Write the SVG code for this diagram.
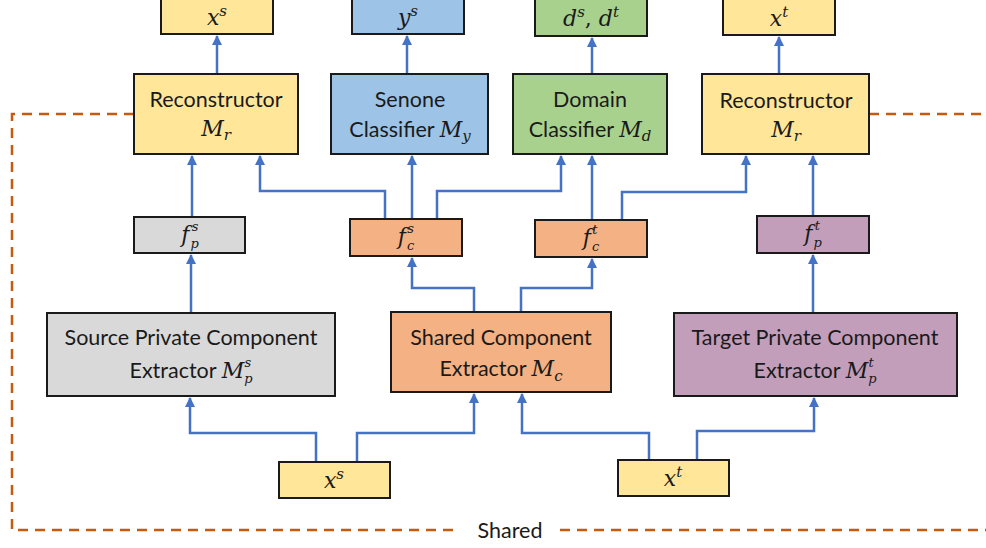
<svg xmlns="http://www.w3.org/2000/svg" width="986" height="548" viewBox="0 0 986 548">
<defs>
<marker id="ah" viewBox="0 0 10 10" refX="9" refY="5" markerWidth="4.2" markerHeight="4.2" orient="auto" markerUnits="strokeWidth"><path d="M0,0 L10,5 L0,10 z" fill="#4472C4"/></marker>
<style>
.box{stroke:#1a1a1a;stroke-width:2}
.y{fill:#FFE699}.b{fill:#9DC3E6}.g{fill:#A9D18E}.gr{fill:#D9D9D9}.o{fill:#F4B183}.p{fill:#C39EBB}
.t{font-family:Lato,"Open Sans",sans-serif;font-size:21.5px;fill:#1a1a1a;text-anchor:middle}
.m{font-family:"DejaVu Serif","Liberation Serif",serif;font-style:italic;font-size:22px;fill:#1a1a1a}
.mc{text-anchor:middle}
.sub{font-size:15px}
.ss{font-size:13px}
.c{fill:none;stroke:#4472C4;stroke-width:2.5;marker-end:url(#ah)}
.d{fill:none;stroke:#C55A11;stroke-width:2.5;stroke-dasharray:10 7}
</style>
</defs>
<g id="shared-boundary">
<path class="d" d="M134,114 H12 V530 H460"/>
<path class="d" d="M560,530 H986"/>
<path class="d" d="M869,114 H986"/>
<text class="t" x="510" y="538">Shared</text>
</g>
<g id="connectors">
<path class="c" d="M217,74 V36"/>
<path class="c" d="M407,74 V36"/>
<path class="c" d="M592,74 V38"/>
<path class="c" d="M779,74 V37"/>
<path class="c" d="M192,217 V156"/>
<path class="c" d="M385,219 V191 H260 V156"/>
<path class="c" d="M412,219 V156"/>
<path class="c" d="M437,219 V191 H561 V156"/>
<path class="c" d="M592,220 V156"/>
<path class="c" d="M622,220 V192 H746 V156"/>
<path class="c" d="M813,216 V156"/>
<path class="c" d="M191,313 V255"/>
<path class="c" d="M474,312 V288 H412 V258"/>
<path class="c" d="M521,312 V288 H592 V259"/>
<path class="c" d="M813,313 V255"/>
<path class="c" d="M316,462 V433 H190 V398"/>
<path class="c" d="M357,462 V433 H474 V394"/>
<path class="c" d="M649,460 V433 H522 V394"/>
<path class="c" d="M697,460 V431 H814 V398"/>
</g>
<g id="out-xs"><rect class="box y" x="161" y="-4" width="112" height="38"/><text class="m mc" x="217" y="25">x<tspan class="sub" dy="-9">s</tspan></text></g>
<g id="out-ys"><rect class="box b" x="352" y="-4" width="112" height="38"/><text class="m mc" x="408" y="25">y<tspan class="sub" dy="-9">s</tspan></text></g>
<g id="out-d"><rect class="box g" x="535" y="-4" width="112" height="40"/><text class="m mc" x="591" y="26">d<tspan class="sub" dy="-9">s</tspan><tspan dy="9" font-style="normal">, </tspan>d<tspan class="sub" dy="-9">t</tspan></text></g>
<g id="out-xt"><rect class="box y" x="723" y="-4" width="112" height="39"/><text class="m mc" x="779" y="26">x<tspan class="sub" dy="-9">t</tspan></text></g>

<g id="recon-s"><rect class="box y" x="134" y="74" width="164" height="80"/><text class="t" x="216" y="107">Reconstructor</text><text class="m mc" x="216" y="136">M<tspan class="sub" dy="4">r</tspan></text></g>
<g id="senone"><rect class="box b" x="331" y="74" width="157" height="80"/><text class="t" x="410" y="107">Senone</text><text class="t" x="410" y="137">Classifier <tspan class="m">M<tspan class="sub" dy="4">y</tspan></tspan></text></g>
<g id="domain"><rect class="box g" x="513" y="74" width="154" height="80"/><text class="t" x="590" y="107">Domain</text><text class="t" x="590" y="137">Classifier <tspan class="m">M<tspan class="sub" dy="4">d</tspan></tspan></text></g>
<g id="recon-t"><rect class="box y" x="702" y="74" width="167" height="80"/><text class="t" x="786" y="108">Reconstructor</text><text class="m mc" x="786" y="137">M<tspan class="sub" dy="4">r</tspan></text></g>

<g id="fps"><rect class="box gr" x="134" y="217" width="111" height="36"/><text class="m mc" x="190" y="242" font-size="20">f<tspan class="ss" dx="1" dy="6">p</tspan><tspan class="ss" dx="-7" dy="-17">s</tspan></text></g>
<g id="fcs"><rect class="box o" x="350" y="219" width="112" height="37"/><text class="m mc" x="406" y="244" font-size="20">f<tspan class="ss" dx="1" dy="6">c</tspan><tspan class="ss" dx="-7" dy="-17">s</tspan></text></g>
<g id="fct"><rect class="box o" x="535" y="220" width="112" height="37"/><text class="m mc" x="591" y="245" font-size="20">f<tspan class="ss" dx="1" dy="6">c</tspan><tspan class="ss" dx="-7" dy="-17">t</tspan></text></g>
<g id="fpt"><rect class="box p" x="757" y="216" width="112" height="37"/><text class="m mc" x="813" y="241" font-size="20">f<tspan class="ss" dx="1" dy="6">p</tspan><tspan class="ss" dx="-7" dy="-17">t</tspan></text></g>

<g id="src-priv"><rect class="box gr" x="47" y="313" width="288" height="83"/><text class="t" x="191" y="345">Source Private Component</text><text class="t" x="191" y="378">Extractor <tspan class="m">M<tspan class="ss" dy="5">p</tspan><tspan class="ss" dx="-8" dy="-16">s</tspan></tspan></text></g>
<g id="shared-ext"><rect class="box o" x="391" y="312" width="220" height="80"/><text class="t" x="501" y="345">Shared Component</text><text class="t" x="501" y="376">Extractor <tspan class="m">M<tspan class="sub" dy="5">c</tspan></tspan></text></g>
<g id="tgt-priv"><rect class="box p" x="674" y="313" width="283" height="83"/><text class="t" x="815" y="345">Target Private Component</text><text class="t" x="815" y="378">Extractor <tspan class="m">M<tspan class="ss" dy="5">p</tspan><tspan class="ss" dx="-8" dy="-16">t</tspan></tspan></text></g>

<g id="in-xs"><rect class="box y" x="279" y="462" width="111" height="36"/><text class="m mc" x="334" y="488">x<tspan class="sub" dy="-9">s</tspan></text></g>
<g id="in-xt"><rect class="box y" x="618" y="460" width="111" height="36"/><text class="m mc" x="673" y="486">x<tspan class="sub" dy="-9">t</tspan></text></g>
</svg>
